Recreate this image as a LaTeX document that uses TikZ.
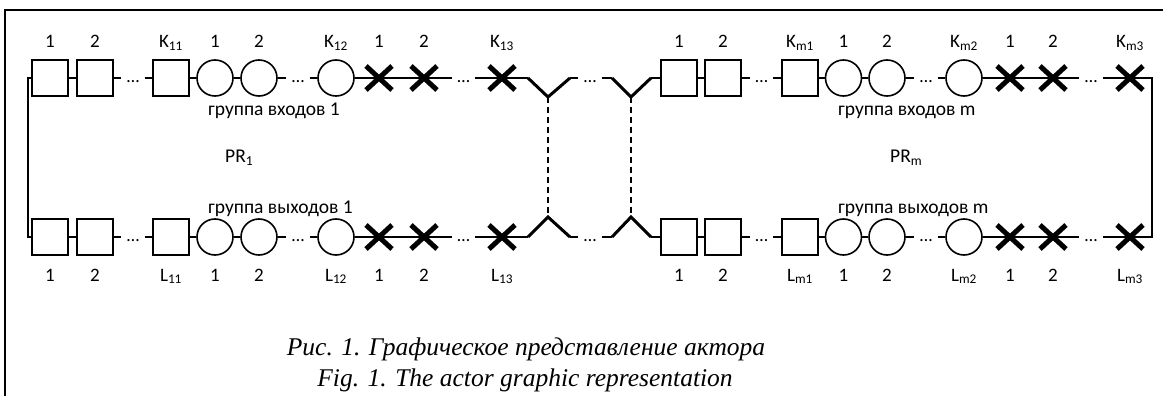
\documentclass[tikz,border=0pt]{standalone}
\usepackage{fontspec}
\setmainfont{Carlito}
\newfontfamily\capfont{Liberation Serif}
\usetikzlibrary{shapes.misc}
\begin{document}
\begin{tikzpicture}[x=1pt,y=-1pt,
  port/.style={draw, line width=1.6pt, rectangle, minimum width=36pt, minimum height=36pt, inner sep=0pt},
  cport/.style={draw, line width=1.6pt, circle, minimum size=36pt, inner sep=0pt},
  xport/.style={cross out, draw, line width=5pt, minimum width=21pt, minimum height=19pt, inner sep=0pt},
  dotsnode/.style={minimum width=23pt, inner sep=0pt, text height=8pt, text depth=0pt, font=\fontsize{18}{18}\selectfont},
  lbl/.style={anchor=base, font=\fontsize{19}{21}\selectfont, inner sep=0pt},
  grp/.style={anchor=base west, font=\fontsize{19.5}{21}\selectfont, inner sep=0pt},
  captxt/.style={anchor=base, font=\capfont\itshape\fontsize{25.5}{28}\selectfont, inner sep=0pt},
  wire/.style={line width=1.6pt},
  fork/.style={line width=3pt, line join=miter},
  dash line/.style={line width=1.6pt, dash pattern=on 6pt off 4pt},
]
\useasboundingbox (0,0) rectangle (1163,396);
% frame
\coordinate (F1) at (5,396);
\coordinate (F2) at (5,10);
\coordinate (F3) at (1164,10);
\draw[line width=1.6pt] (F1) -- (F2) -- (F3);

\foreach \r/\yy in {T/78,B/237}{
  \foreach \n/\px in {1/50,2/95,3/171,4/679,5/723,6/800}
    \node[port] (\r-b\n) at (\px,\yy) {};
  \foreach \n/\px in {1/215,2/259,3/336,4/843.5,5/887,6/964}
    \node[cport] (\r-c\n) at (\px,\yy) {};
  \foreach \n/\px in {1/379,2/424,3/502,4/1010,5/1053,6/1130}
    \node[xport] (\r-x\n) at (\px,\yy) {};
  \foreach \n/\px in {1/133,2/298,3/463.5,4/590,5/761.5,6/926,7/1091}
    \node[dotsnode] (\r-d\n) at (\px,\yy) {\ldots};
}
\coordinate (T-v1a) at (528,78);  \coordinate (T-v1b) at (548,97);  \coordinate (T-v1c) at (570,78);
\coordinate (T-v2a) at (612,78);  \coordinate (T-v2b) at (631,97);  \coordinate (T-v2c) at (651,78);
\coordinate (B-v1a) at (528,237); \coordinate (B-v1b) at (548,217); \coordinate (B-v1c) at (570,237);
\coordinate (B-v2a) at (612,237); \coordinate (B-v2b) at (631,217); \coordinate (B-v2c) at (651,237);

\foreach \r in {T,B}{
  \draw[wire] (\r-b1.east) -- (\r-b2.west);
  \draw[wire] (\r-b2.east) -- (\r-d1.west);
  \draw[wire] (\r-d1.east) -- (\r-b3.west);
  \draw[wire] (\r-b3.east) -- (\r-c1.west);
  \draw[wire] (\r-c1.east) -- (\r-c2.west);
  \draw[wire] (\r-c2.east) -- (\r-d2.west);
  \draw[wire] (\r-d2.east) -- (\r-c3.west);
  \draw[wire] (\r-c3.east) -- (\r-x1.center) -- (\r-x2.center) -- (\r-d3.west);
  \draw[wire] (\r-d3.east) -- (\r-x3.center) -- (\r-v1a);
  \draw[fork] (\r-v1a) -- (\r-v1b) -- (\r-v1c);
  \draw[wire] (\r-v1c) -- (\r-d4.west);
  \draw[wire] (\r-d4.east) -- (\r-v2a);
  \draw[fork] (\r-v2a) -- (\r-v2b) -- (\r-v2c);
  \draw[wire] (\r-v2c) -- (\r-b4.west);
  \draw[wire] (\r-b4.east) -- (\r-b5.west);
  \draw[wire] (\r-b5.east) -- (\r-d5.west);
  \draw[wire] (\r-d5.east) -- (\r-b6.west);
  \draw[wire] (\r-b6.east) -- (\r-c4.west);
  \draw[wire] (\r-c4.east) -- (\r-c5.west);
  \draw[wire] (\r-c5.east) -- (\r-d6.west);
  \draw[wire] (\r-d6.east) -- (\r-c6.west);
  \draw[wire] (\r-c6.east) -- (\r-x4.center) -- (\r-x5.center) -- (\r-d7.west);
  \draw[wire] (\r-d7.east) -- (\r-x6.center);
}
% loops
\coordinate (L1) at (28,78);   \coordinate (L2) at (28,237);
\coordinate (R1) at (1152,78); \coordinate (R2) at (1152,237);
\draw[wire] (T-b1.west) -- (L1) -- (L2) -- (B-b1.west);
\draw[wire] (T-x6.center) -- (R1) -- (R2) -- (B-x6.center);
% dashed links
\draw[dash line] (T-v1b) -- (B-v1b);
\draw[dash line] (T-v2b) -- (B-v2b);

% port labels
\foreach \r/\yy/\ch in {T/48/K,B/281/L}{
  \node[lbl] (\r-lb1) at (50,\yy) {1};
  \node[lbl] (\r-lb2) at (95,\yy) {2};
  \node[lbl] (\r-lb3) at (171,\yy) {\ch\textsubscript{11}};
  \node[lbl] (\r-lc1) at (215,\yy) {1};
  \node[lbl] (\r-lc2) at (259,\yy) {2};
  \node[lbl] (\r-lc3) at (336,\yy) {\ch\textsubscript{12}};
  \node[lbl] (\r-lx1) at (379,\yy) {1};
  \node[lbl] (\r-lx2) at (424,\yy) {2};
  \node[lbl] (\r-lx3) at (502,\yy) {\ch\textsubscript{13}};
  \node[lbl] (\r-lb4) at (679,\yy) {1};
  \node[lbl] (\r-lb5) at (723,\yy) {2};
  \node[lbl] (\r-lb6) at (800,\yy) {\ch\textsubscript{m1}};
  \node[lbl] (\r-lc4) at (843.5,\yy) {1};
  \node[lbl] (\r-lc5) at (887,\yy) {2};
  \node[lbl] (\r-lc6) at (964,\yy) {\ch\textsubscript{m2}};
  \node[lbl] (\r-lx4) at (1010,\yy) {1};
  \node[lbl] (\r-lx5) at (1053,\yy) {2};
  \node[lbl] (\r-lx6) at (1130,\yy) {\ch\textsubscript{m3}};
}
% group labels
\node[grp] (g1) at (208,115) {группа входов 1};
\node[grp] (g2) at (208,213) {группа выходов 1};
\node[grp] (g3) at (838,115) {группа входов m};
\node[grp] (g4) at (838,213) {группа выходов m};
\node[grp] (pr1) at (225,162) {PR\textsubscript{1}};
\node[grp] (prm) at (890,162) {PR\textsubscript{m}};
% caption
\node[captxt] (cap1) at (526,355) {Рис. 1. Графическое представление актора};
\node[captxt] (cap2) at (525,386) {Fig. 1. The actor graphic representation};
\end{tikzpicture}
\end{document}
